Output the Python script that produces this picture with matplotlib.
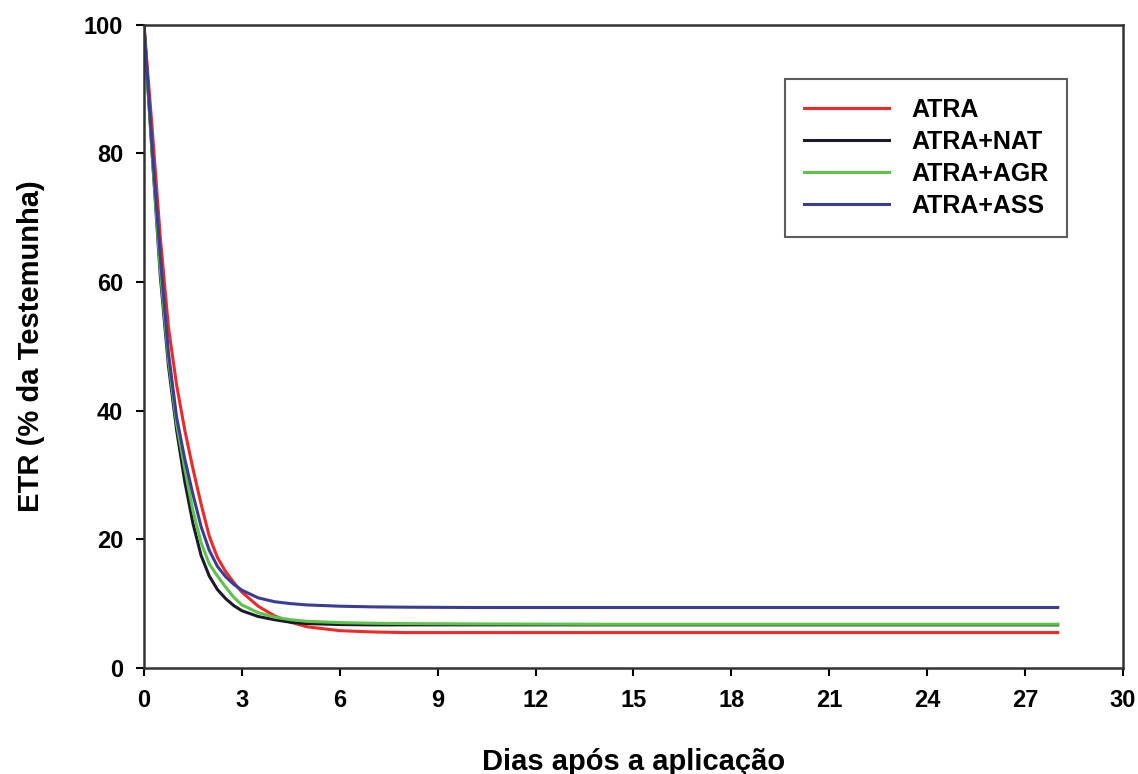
import numpy as np
import matplotlib
matplotlib.use('Agg')
import matplotlib.pyplot as plt

plt.rcParams['font.family'] = ['Liberation Sans', 'DejaVu Sans']
plt.rcParams['font.weight'] = 'bold'

# Days after application
dias = [0, 0.25, 0.5, 0.75, 1.0, 1.25, 1.5, 1.75, 2.0, 2.25, 2.5, 2.75,
        3.0, 3.5, 4.0, 4.5, 5.0, 6.0, 7.0, 8.0, 10, 14, 20, 28]

atra = [100, 84, 67, 53, 44, 37, 31, 25.5, 20.5, 17.2, 15, 13.3,
        11.8, 9.6, 8.1, 7.1, 6.4, 5.8, 5.6, 5.5, 5.5, 5.5, 5.5, 5.5]
atra_nat = [100, 80, 61, 47, 37, 29, 22.5, 17.5, 14.3, 12.2, 10.8, 9.7,
            8.9, 8.0, 7.5, 7.1, 6.9, 6.75, 6.7, 6.7, 6.7, 6.7, 6.7, 6.7]
atra_agr = [100, 80, 62, 48, 38, 31, 24.5, 19.5, 16.2, 14.3, 12.6, 11,
            9.8, 8.6, 7.9, 7.5, 7.25, 7.05, 6.95, 6.9, 6.85, 6.8, 6.8, 6.8]
atra_ass = [100, 81, 64, 49, 39, 32.5, 27, 22, 18.3, 15.8, 14.2, 13,
            12.1, 10.9, 10.3, 10.0, 9.8, 9.6, 9.5, 9.45, 9.4, 9.4, 9.4, 9.4]

series = [
    ("ATRA", atra, '#f02828'),
    ("ATRA+NAT", atra_nat, '#1c1a2a'),
    ("ATRA+AGR", atra_agr, '#5cc448'),
    ("ATRA+ASS", atra_ass, '#3a3d96'),
]

fig = plt.figure(figsize=(11.38, 7.74), dpi=100)
ax = fig.add_axes([0.1265, 0.137, 0.8603, 0.831])

for name, vals, color in series:
    ax.plot(dias, vals, color=color, linewidth=2.2, label=name)

ax.set_xlim(0, 30)
ax.set_ylim(0, 100)
ax.set_xticks(np.arange(0, 31, 3))
ax.set_yticks(np.arange(0, 101, 20))
ax.tick_params(direction='out', length=6, width=1.5, labelsize=17, pad=9)
for lab in ax.get_xticklabels() + ax.get_yticklabels():
    lab.set_fontweight('bold')
for sp in ax.spines.values():
    sp.set_linewidth(1.8)
    sp.set_color('#333333')

ax.set_xlabel("Dias após a aplicação", fontsize=21, fontweight='bold', labelpad=26)
ax.set_ylabel("ETR (% da Testemunha)", fontsize=21, fontweight='bold', labelpad=28)

leg = ax.legend(loc='upper right', bbox_to_anchor=(0.956, 0.935), fontsize=18,
                frameon=True, fancybox=False, edgecolor='#333333',
                handlelength=3.4, borderpad=0.75, labelspacing=0.32, handletextpad=0.9)
leg.get_frame().set_linewidth(1.5)
for t in leg.get_texts():
    t.set_fontweight('bold')

plt.savefig("out.png", dpi=100)
plt.close()
